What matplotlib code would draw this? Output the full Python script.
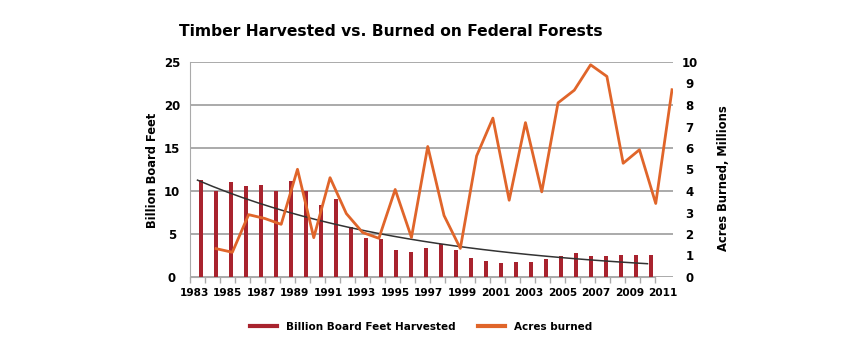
import matplotlib
matplotlib.use("Agg")
import matplotlib.pyplot as plt
from matplotlib.lines import Line2D
import numpy as np

# timber harvested on federal forests, billion board feet (31 bars)
harvest_bbf = [11.3, 10.0, 11.0, 10.6, 10.7, 10.0, 11.2, 10.0, 8.4, 9.1,
               5.8, 4.5, 4.4, 3.1, 2.9, 3.4, 3.8, 3.1, 2.25, 1.87,
               1.6, 1.76, 1.76, 2.15, 2.5, 2.8, 2.5, 2.45, 2.6, 2.6, 2.6]

# acres burned, millions
burn_years = list(range(1983, 2012))
acres_burned = [1.32, 1.15, 2.90, 2.72, 2.45, 5.01, 1.83, 4.62, 2.95, 2.07,
                1.80, 4.07, 1.84, 6.07, 2.86, 1.33, 5.63, 7.39, 3.57, 7.18,
                3.96, 8.10, 8.69, 9.87, 9.33, 5.29, 5.92, 3.42, 8.71]

label_years = list(range(1983, 2012, 2))
left_ticks = [0, 5, 10, 15, 20, 25]
right_ticks = list(range(0, 11))

bar_red = "#a8232e"
burn_orange = "#e0652a"
grid_gray = "#aaaaaa"
font = "DejaVu Sans"

W, H = 846, 350
fig = plt.figure(figsize=(W / 100, H / 100), dpi=100)

# plot area in pixels: x 190..673, y 62..277
rect = [190 / W, 1 - 277 / H, 483 / W, 215 / H]

# bars + exponential trend
ax = fig.add_axes(rect)
idx = np.arange(len(harvest_bbf))
ax.bar(idx + 0.21, harvest_bbf, width=0.28, color=bar_red, zorder=3)

b, a = np.polyfit(idx, np.log(harvest_bbf), 1)
ax.plot(idx, np.exp(a + b * idx), color="#333333", lw=1.1, zorder=4)

ax.set_xlim(-0.5, len(idx) - 0.5 + 1.2)
ax.set_ylim(0, 25)
ax.set_yticks(left_ticks)
ax.set_xticks(np.arange(len(idx) + 1) - 0.5)
ax.set_xticklabels([])
ax.tick_params(axis="x", length=4, width=1, color=grid_gray, direction="out")
ax.tick_params(axis="y", length=0, pad=13, labelsize=8.5)
for t in ax.get_yticklabels():
    t.set_fontweight("bold")
    t.set_fontfamily(font)
    t.set_horizontalalignment("center")
ax.grid(axis="y", color=grid_gray, lw=1.4, zorder=0)
for s in ["top", "right"]:
    ax.spines[s].set_visible(False)
ax.spines["left"].set_color(grid_gray)
ax.spines["bottom"].set_color(grid_gray)
ax.spines["bottom"].set_bounds(-0.5, len(idx) - 0.5)

# acres burned line on its own scale
ax2 = fig.add_axes(rect)
ax2.patch.set_visible(False)
ax2.plot(burn_years, acres_burned, color=burn_orange, lw=2.0, zorder=5)
ax2.set_xlim(1981.40, 2011.06)
ax2.set_ylim(0, 10)
ax2.yaxis.tick_right()
ax2.set_yticks(right_ticks)
ax2.tick_params(axis="y", length=0, pad=12, labelsize=8.5)
for t in ax2.get_yticklabels():
    t.set_fontweight("bold")
    t.set_fontfamily(font)
    t.set_horizontalalignment("center")
ax2.set_xticks([])
for s in ax2.spines.values():
    s.set_visible(False)

# year labels along the bottom
ax3 = fig.add_axes(rect)
ax3.patch.set_visible(False)
ax3.set_xlim(1982.76, 2011.6)
ax3.set_xticks(label_years)
ax3.set_xticklabels([str(y) for y in label_years], fontweight="bold",
                    fontsize=7.6, fontfamily=font)
ax3.tick_params(axis="x", length=0, pad=8)
ax3.set_yticks([])
for s in ax3.spines.values():
    s.set_visible(False)

fig.text(391 / W, 1 - 31 / H, "Timber Harvested vs. Burned on Federal Forests",
         ha="center", va="center", fontsize=11.2, fontweight="heavy", fontfamily=font)
fig.text(152 / W, 1 - 170 / H, "Billion Board Feet", rotation=90,
         ha="center", va="center", fontsize=8.3, fontweight="bold", fontfamily=font)
fig.text(723 / W, 1 - 178 / H, "Acres Burned, Millions", rotation=90,
         ha="center", va="center", fontsize=8.3, fontweight="bold", fontfamily=font)

handles = [Line2D([], [], color=bar_red, lw=3),
           Line2D([], [], color=burn_orange, lw=3)]
fig.legend(handles, ["Billion Board Feet Harvested", "Acres burned"],
           loc="center", bbox_to_anchor=(421 / W, 1 - 327 / H), ncol=2,
           frameon=False, handlelength=2.6, columnspacing=2.2,
           prop={"family": font, "weight": "bold", "size": 7.5})

fig.savefig("out.png", dpi=100)
